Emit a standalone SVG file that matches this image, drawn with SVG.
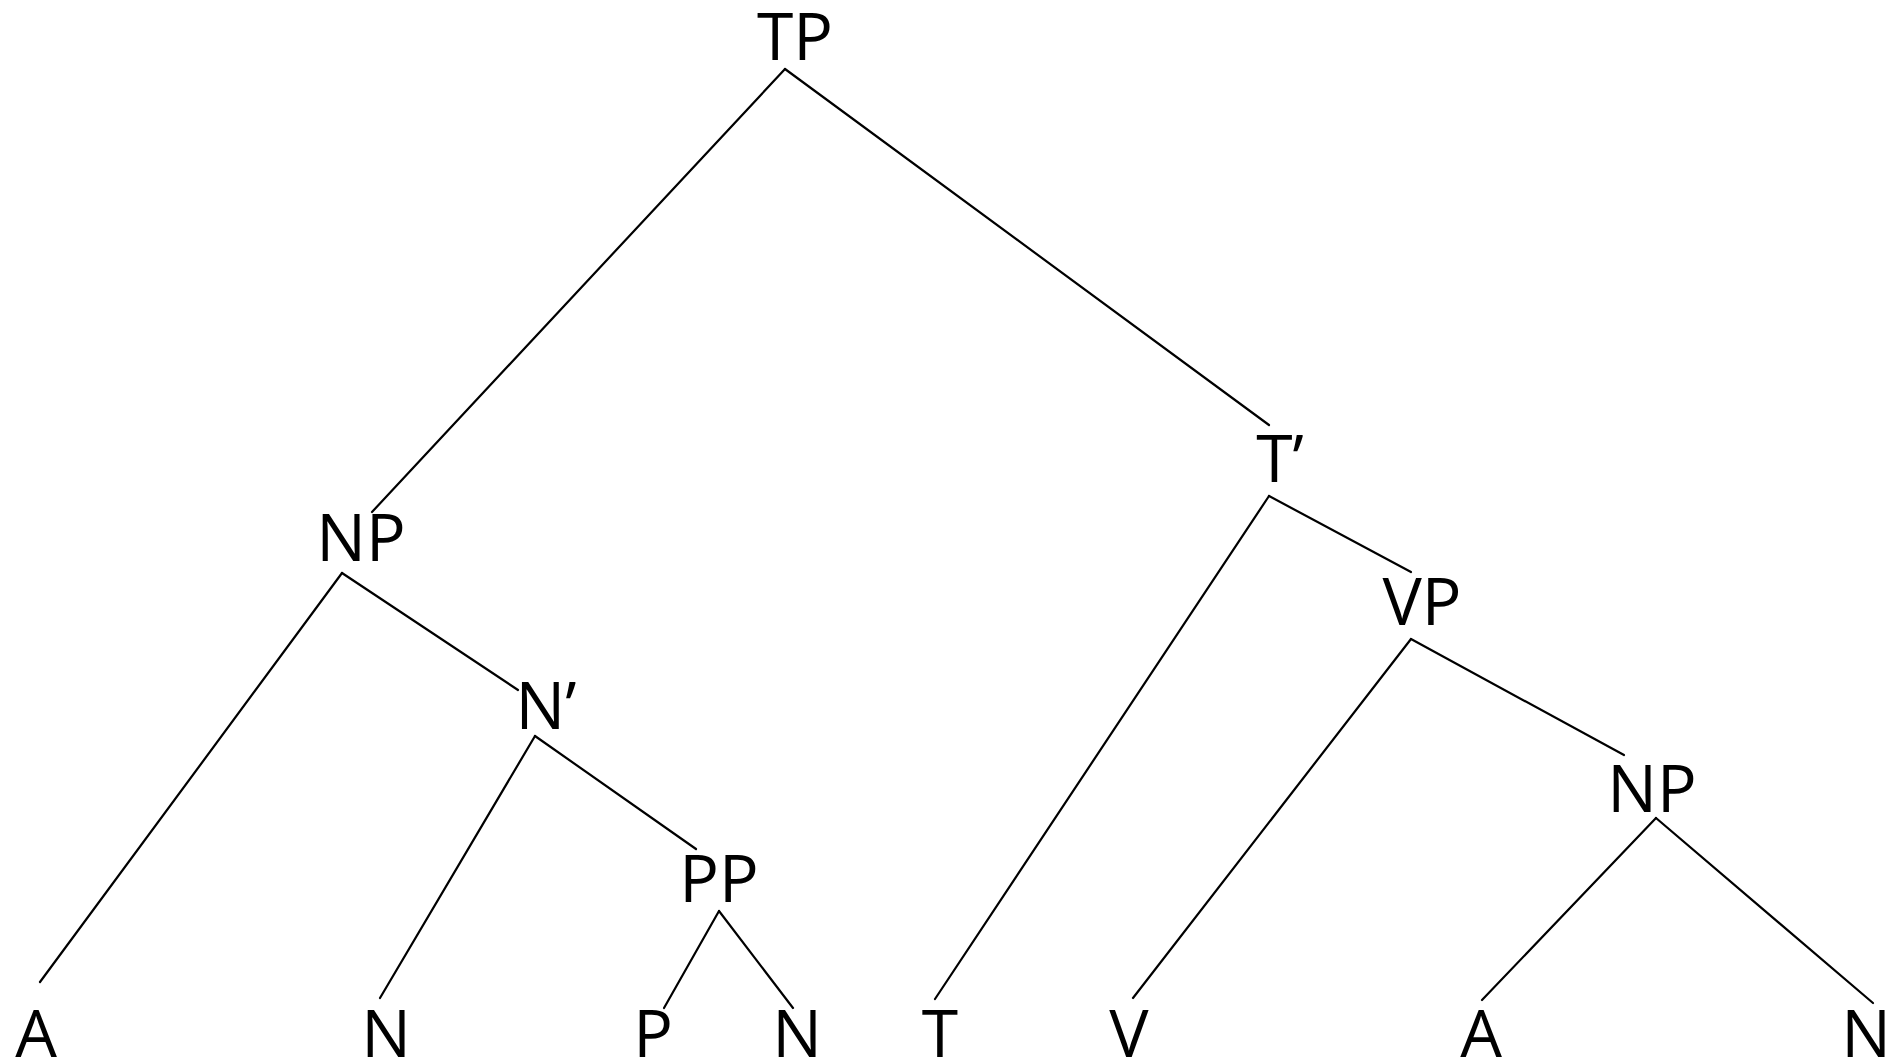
<svg xmlns="http://www.w3.org/2000/svg" width="1888" height="1061" viewBox="0 0 1888 1061">
<style>
.lbl{font-family:"Open Sans","Noto Sans",sans-serif;font-size:66px;fill:#000;text-anchor:middle}
.edge{stroke:#000;stroke-width:2.2;fill:none;stroke-linecap:round}
</style>
<rect width="1888" height="1061" fill="#fff"/>
<g id="connectors">
<line class="edge" x1="785" y1="69" x2="372" y2="512"/>
<line class="edge" x1="785" y1="69" x2="1269" y2="425"/>
<line class="edge" x1="342" y1="573" x2="40" y2="982"/>
<line class="edge" x1="342" y1="573" x2="518" y2="690"/>
<line class="edge" x1="535" y1="736" x2="380" y2="998"/>
<line class="edge" x1="535" y1="736" x2="696" y2="849"/>
<line class="edge" x1="719" y1="911" x2="664" y2="1008"/>
<line class="edge" x1="719" y1="911" x2="793" y2="1008"/>
<line class="edge" x1="1269" y1="496" x2="935" y2="999"/>
<line class="edge" x1="1269" y1="496" x2="1411" y2="572"/>
<line class="edge" x1="1411" y1="639" x2="1133" y2="998"/>
<line class="edge" x1="1411" y1="639" x2="1624" y2="755"/>
<line class="edge" x1="1656" y1="818" x2="1482" y2="1000"/>
<line class="edge" x1="1656" y1="818" x2="1873" y2="1003"/>
</g>
<g id="n-TP"><text class="lbl" x="795" y="60">TP</text></g>
<g id="n-NP1"><text class="lbl" x="361" y="561">NP</text></g>
<g id="n-Nbar"><text class="lbl" x="546" y="729">N’</text></g>
<g id="n-PP"><text class="lbl" x="719" y="902">PP</text></g>
<g id="n-Tbar"><text class="lbl" x="1280" y="482">T’</text></g>
<g id="n-VP"><text class="lbl" x="1422" y="625">VP</text></g>
<g id="n-NP2"><text class="lbl" x="1652" y="812">NP</text></g>
<g id="n-A1"><text class="lbl" x="36" y="1057">A</text></g>
<g id="n-N1"><text class="lbl" x="386" y="1057">N</text></g>
<g id="n-P"><text class="lbl" x="653" y="1057">P</text></g>
<g id="n-N2"><text class="lbl" x="797" y="1057">N</text></g>
<g id="n-T"><text class="lbl" x="940" y="1057">T</text></g>
<g id="n-V"><text class="lbl" x="1129" y="1057">V</text></g>
<g id="n-A2"><text class="lbl" x="1481" y="1057">A</text></g>
<g id="n-N3"><text class="lbl" x="1866" y="1057">N</text></g>
</svg>
